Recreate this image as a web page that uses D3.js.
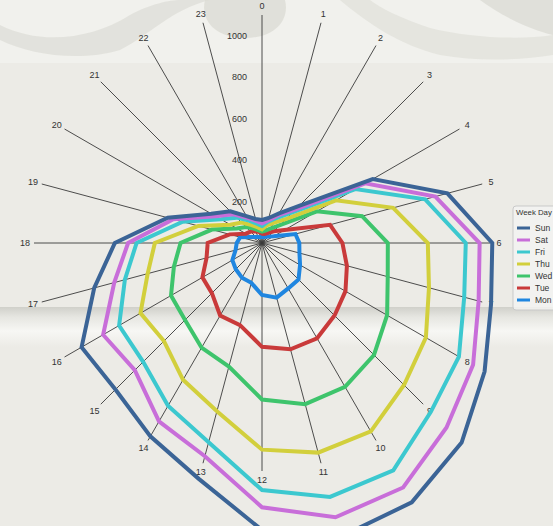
<!DOCTYPE html>
<html>
<head>
<meta charset="utf-8">
<script src="https://cdn.jsdelivr.net/npm/d3@7"></script>
<style>
html,body{margin:0;padding:0;background:#ecebe6;overflow:hidden;}
svg{display:block;font-family:"Liberation Sans",Arial,sans-serif;}
</style>
</head>
<body>
<svg id="chart" width="553" height="526"></svg>
<script>
// ---- data (plotted, stacked values per hour 0..23) ----
const hours = d3.range(24).map(String);
const days = ["Sun","Sat","Fri","Thu","Wed","Tue","Mon"];
const colors = ["#3b6496","#c86ed9","#3cc8cf","#d2cf3c","#3ec46c","#c93a3a","#1f86e0"];
const sun = [111,125,165,253,617,926,1111,1144,1240,1362,1445,1467,1385,1178,1077,1000,1005,838,710,471,283,216,150,120];
const sat = [95,112,154,229,575,866,1050,1082,1176,1259,1362,1370,1275,1065,994,868,885,738,646,443,258,196,140,110];
const fri = [82,105,139,211,520,815,983,1010,1097,1152,1267,1268,1192,995,907,811,796,685,605,396,229,173,125,97];
const thu = [66,88,112,165,412,655,800,834,913,969,1050,1047,997,840,762,669,677,571,517,318,177,139,100,78];
const wed = [55,62,80,122,306,500,607,628,697,764,801,805,755,617,583,525,507,440,393,250,141,109,80,63];
const tue = [45,45,55,80,125,340,388,424,465,495,531,531,501,410,404,342,332,277,262,161,90,78,65,55];
const mon = [29,30,35,45,65,167,180,187,212,249,253,273,251,199,193,179,165,132,122,109,58,41,33,30];
const series = [sun, sat, fri, thu, wed, tue, mon];
const radialTicks = [200,400,600,800,1000];

const W = 553, H = 526, cx = 262, cy = 243;
const svg = d3.select("#chart");

// ---- background ----
const bg = svg.append("g");
bg.append("rect").attr("width", W).attr("height", H).attr("fill", "#ecebe6");
bg.append("rect").attr("width", W).attr("height", 63).attr("fill", "#f1f1ed");
bg.append("path").attr("d","M0,25 C40,45 90,40 130,15 C150,4 170,0 180,0 L210,0 C170,10 150,35 120,50 C80,62 30,55 0,40 Z")
  .attr("fill","#dedfd8").attr("opacity",0.8);
bg.append("path").attr("d","M205,0 C200,20 215,38 245,38 C275,38 290,20 285,0 Z")
  .attr("fill","#dcdcd5").attr("opacity",0.8);
bg.append("path").attr("d","M340,0 C370,25 400,45 440,55 C480,62 520,60 553,55 L553,35 C520,40 470,38 430,28 C400,18 380,8 370,0 Z")
  .attr("fill","#dfdfd8").attr("opacity",0.7);
bg.append("path").attr("d","M480,0 C500,15 530,30 553,35 L553,0 Z").attr("fill","#d8d8d1").attr("opacity",0.7);
const grad = svg.append("defs").append("linearGradient").attr("id","band").attr("x1",0).attr("y1",0).attr("x2",0).attr("y2",1);
grad.append("stop").attr("offset","0").attr("stop-color","#d0d0ca");
grad.append("stop").attr("offset","0.25").attr("stop-color","#e6e6e1");
grad.append("stop").attr("offset","0.6").attr("stop-color","#f7f7f4");
grad.append("stop").attr("offset","1").attr("stop-color","#ecebe6");
bg.append("rect").attr("x",0).attr("y",307).attr("width",W).attr("height",40).attr("fill","url(#band)");

// ---- scales ----
const r = d3.scaleLinear().domain([0, 1100]).range([0, 228]);
const ang = d3.scaleLinear().domain([0, 24]).range([0, 2 * Math.PI]);

const g = svg.append("g").attr("transform", `translate(${cx},${cy})`);

// axes
hours.forEach((h, i) => {
  const a = ang(i);
  g.append("line")
    .attr("x1", 0).attr("y1", 0)
    .attr("x2", r(1100) * Math.sin(a)).attr("y2", -r(1100) * Math.cos(a))
    .attr("stroke", "#3a3a3a").attr("stroke-width", 0.9);
  g.append("text")
    .attr("x", 237 * Math.sin(a)).attr("y", -237 * Math.cos(a))
    .attr("text-anchor", "middle").attr("dominant-baseline", "central")
    .attr("font-size", 9).attr("fill", "#333").text(h);
});

// radial tick labels
radialTicks.forEach(t => {
  g.append("text")
    .attr("x", -15).attr("y", -r(t))
    .attr("text-anchor", "end").attr("dominant-baseline", "central")
    .attr("font-size", 9).attr("fill", "#333").text(t);
});

// series lines
const line = d3.lineRadial()
  .angle((d, i) => ang(i))
  .radius(d => r(d))
  .curve(d3.curveLinearClosed);

for (let k = series.length - 1; k >= 0; k--) {
  g.append("path")
    .attr("d", line(series[k]))
    .attr("fill", "none")
    .attr("stroke", colors[k])
    .attr("stroke-width", 4)
    .attr("stroke-linejoin", "miter");
}

// ---- legend ----
const lg = svg.append("g").attr("transform", "translate(513,206)");
lg.append("rect").attr("width", 60).attr("height", 104).attr("rx", 3)
  .attr("fill", "#f3f3f1").attr("fill-opacity", 0.85).attr("stroke", "#c9c9c9");
lg.append("text").attr("x", 3).attr("y", 9).attr("font-size", 7.8).attr("fill", "#333").text("Week Day");
days.forEach((d, i) => {
  const y = 22 + i * 12;
  lg.append("line").attr("x1", 4).attr("x2", 17).attr("y1", y).attr("y2", y)
    .attr("stroke", colors[i]).attr("stroke-width", 3);
  lg.append("text").attr("x", 22).attr("y", y).attr("dominant-baseline", "central")
    .attr("font-size", 8.5).attr("fill", "#333").text(d);
});
</script>
</body>
</html>
